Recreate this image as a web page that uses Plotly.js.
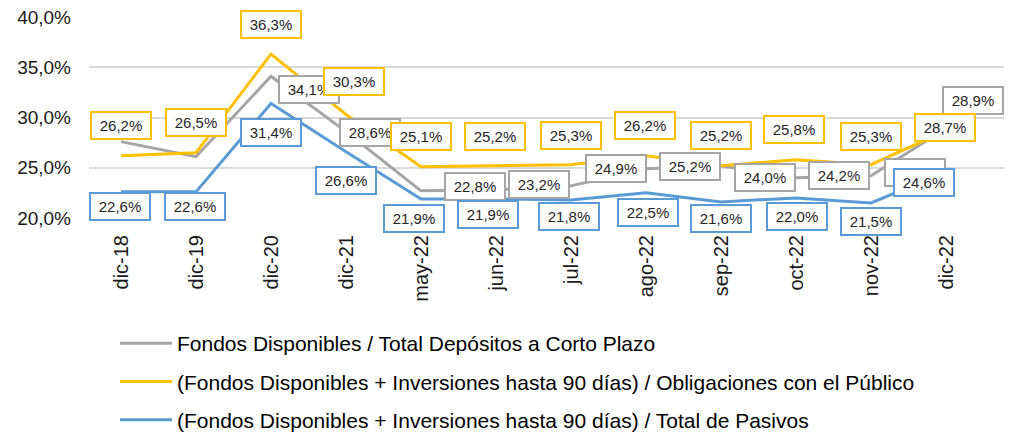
<!DOCTYPE html>
<html><head><meta charset="utf-8">
<script src="https://cdn.plot.ly/plotly-3.0.1.min.js"></script>
<style>html,body{margin:0;padding:0;background:#fff}#chart{width:1020px;height:438px}</style>
</head><body><div id="chart"></div>
<script>
const categories = ['dic-18','dic-19','dic-20','dic-21','may-22','jun-22','jul-22','ago-22','sep-22','oct-22','nov-22','dic-22'];
const seriesNames = ['Fondos Disponibles / Total Depósitos a Corto Plazo',
  '(Fondos Disponibles + Inversiones hasta 90 días) / Obligaciones con el Público',
  '(Fondos Disponibles + Inversiones hasta 90 días) / Total de Pasivos'];
const grayValues   = [27.6, 26.1, 34.1, 28.6, 22.7, 22.8, 23.2, 24.9, 25.2, 24.0, 24.2, 28.9];
const yellowValues = [26.2, 26.5, 36.3, 30.3, 25.1, 25.2, 25.3, 26.2, 25.2, 25.8, 25.3, 28.7];
const blueValues   = [22.6, 22.6, 31.4, 26.6, 21.9, 21.9, 21.8, 22.5, 21.6, 22.0, 21.5, 24.6];
const yTicks = [20, 25, 30, 35, 40];
const yTickLabels = ['20,0%', '25,0%', '30,0%', '35,0%', '40,0%'];

const colors = ['#A5A5A5', '#FFC000', '#5B9BD5'];
// label offsets [dx, dy(up)] per point; null = label hidden
const grayOff   = [null, null, [38,-13], [24,-1], null, [-21,3], [-32,1], [-30,0], [-31,-1], [-31,0], [-32,0], [27,28]];
const yellowOff = [[0,30],[0,30],[0,30],[8,33],[0,30],[-1,29],[0,29],[-1,30],[0,30],[-2,30],[0,28],[-1,3]];
const blueOff   = [[-1,-15],[-1,-15],[0,-29],[0,-29],[-7,-20],[-8,-16],[-2,-17],[2,-20],[0,-17],[1,-19],[0,-19],[-22,-11]];

const fmt = v => v.toFixed(1).replace('.', ',') + '%';
const allValues = [grayValues, yellowValues, blueValues];
const offs = [grayOff, yellowOff, blueOff];

const traces = allValues.map((vals, k) => ({
  type: 'scatter', mode: 'lines', x: categories, y: vals, name: seriesNames[k],
  legendgroup: 'g' + k,
  line: {color: colors[k], width: 3}, hoverinfo: 'skip'
}));

const annotations = [];
allValues.forEach((vals, k) => {
  vals.forEach((v, i) => {
    const o = offs[k][i];
    if (!o) return;
    annotations.push({
      x: categories[i], y: v, xref: 'x', yref: 'y', text: fmt(v), showarrow: false,
      xshift: o[0], yshift: o[1], width: 52, height: 19, borderpad: 3,
      bordercolor: colors[k], borderwidth: 2, bgcolor: '#ffffff',
      font: {family: 'Liberation Sans, Arial, sans-serif', size: 15, color: '#262626'}
    });
  });
  if (k === 0) {
    // partially hidden gray label box near the last point
    annotations.push({
      x: categories[11], y: vals[11], xref: 'x', yref: 'y', text: ' ', showarrow: false,
      xshift: -31, yshift: -44, width: 52, height: 19, borderpad: 3,
      bordercolor: colors[0], borderwidth: 2, bgcolor: '#ffffff',
      font: {family: 'Liberation Sans, Arial, sans-serif', size: 15, color: '#262626'}
    });
  }
});

const layout = {
  width: 1020, height: 438,
  margin: {l: 89, r: 16, t: 17, b: 220, autoexpand: false},
  paper_bgcolor: '#fff', plot_bgcolor: '#fff',
  separators: ',.',
  showlegend: true,
  font: {family: 'Liberation Sans, Arial, sans-serif', color: '#1a1a1a'},
  xaxis: {
    type: 'category', tickangle: -90, showgrid: false, zeroline: false, showline: false,
    ticks: '', ticklabelstandoff: 12, automargin: false,
    tickfont: {size: 20, color: '#1a1a1a'}, fixedrange: true
  },
  yaxis: {
    range: [20, 40], tickmode: 'array', tickvals: yTicks, ticktext: yTickLabels,
    showgrid: true, gridcolor: '#D9D9D9', gridwidth: 2, zeroline: false, showline: false,
    ticks: '', ticklabelstandoff: 17, automargin: false,
    tickfont: {size: 19, color: '#1a1a1a'}, fixedrange: true
  },
  legend: {
    orientation: 'v', xref: 'container', yref: 'container',
    x: 115/1020, y: 1 - 323/438, xanchor: 'left', yanchor: 'top',
    font: {size: 21, color: '#000'}, tracegroupgap: 8, itemwidth: 52,
    bgcolor: 'rgba(0,0,0,0)'
  },
  annotations: annotations
};

Plotly.newPlot('chart', traces, layout, {displayModeBar: false, staticPlot: true});
</script></body></html>
